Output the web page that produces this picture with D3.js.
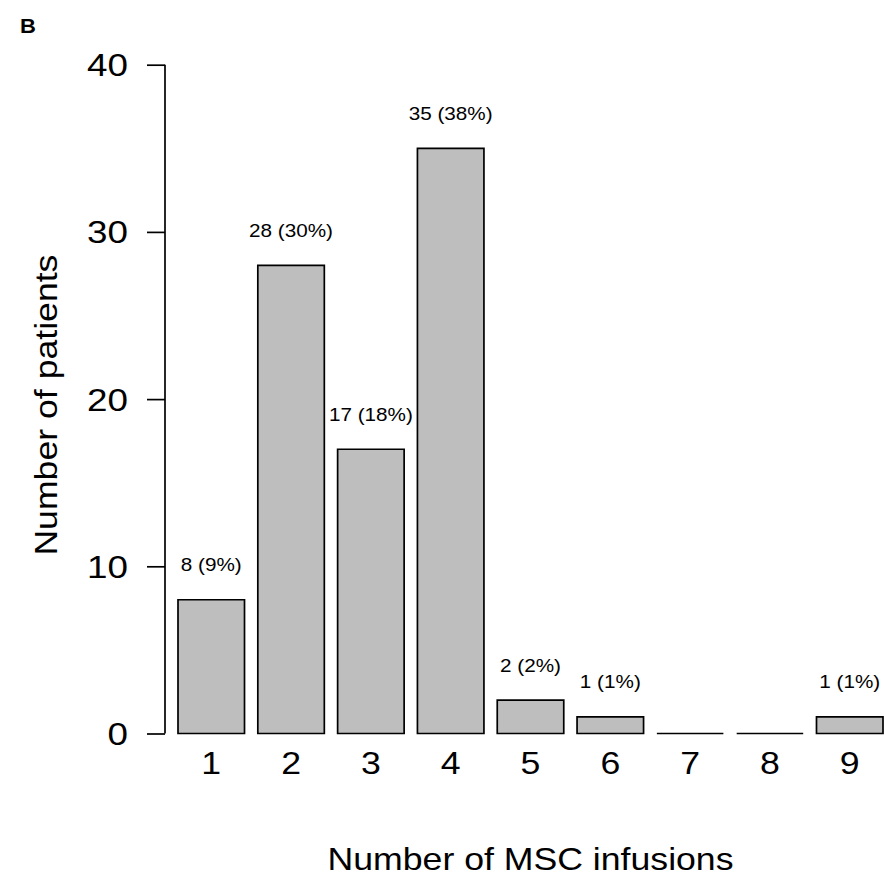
<!DOCTYPE html>
<html>
<head>
<meta charset="utf-8">
<script src="https://cdn.jsdelivr.net/npm/d3@7"></script>
<style>
  html, body { margin: 0; padding: 0; background: #fff; }
  svg { display: block; }
  text { font-family: "Liberation Sans", Arial, sans-serif; fill: #000; }
</style>
</head>
<body>
<svg id="chart" width="884" height="878"></svg>
<script>
// ---- data ----
const categories = ["1", "2", "3", "4", "5", "6", "7", "8", "9"];
const patients = [8, 28, 17, 35, 2, 1, 0, 0, 1];
const barLabels = ["8 (9%)", "28 (30%)", "17 (18%)", "35 (38%)", "2 (2%)", "1 (1%)", "", "", "1 (1%)"];
const yTicks = [0, 10, 20, 30, 40];
const xTitle = "Number of MSC infusions";
const yTitle = "Number of patients";
const panelLabel = "B";

// ---- layout ----
const svg = d3.select("#chart");
const STRETCH = 1.15;

const x = d3.scaleBand().domain(categories).range([178, 883]).paddingInner(1 / 6).paddingOuter(0);
const y = d3.scaleLinear().domain([0, 40]).range([733.5, 64.7]);

function stext(g, tx, ty, str, size, anchor, rotate, weight) {
  const t = g.append("text")
    .attr("transform", `translate(${tx},${ty})` + (rotate ? ` rotate(${rotate})` : "") + ` scale(${STRETCH},1)`)
    .attr("text-anchor", anchor)
    .attr("font-size", size)
    .text(str);
  if (weight) t.attr("font-weight", weight);
  return t;
}

// bars (paths so zero-height bars still show as a line)
const bars = svg.append("g");
patients.forEach((v, i) => {
  const c = categories[i];
  const x0 = x(c), x1 = x(c) + x.bandwidth();
  const y0 = y(0), y1 = y(v);
  const p = d3.path();
  p.moveTo(x0, y0); p.lineTo(x0, y1); p.lineTo(x1, y1); p.lineTo(x1, y0); p.closePath();
  bars.append("path")
    .attr("d", p.toString())
    .attr("fill", "#bebebe")
    .attr("stroke", "#000")
    .attr("stroke-width", 1.7)
    .attr("stroke-linejoin", "miter");
});

// bar labels
const lab = svg.append("g");
patients.forEach((v, i) => {
  if (!barLabels[i]) return;
  const c = categories[i];
  stext(lab, x(c) + x.bandwidth() / 2, y(v) - 28.5, barLabels[i], 18, "middle");
});

// y axis
const yAxis = d3.axisLeft(y).tickValues(yTicks).tickSize(18).tickSizeOuter(0).tickFormat("");
const ya = svg.append("g").attr("transform", "translate(165,0)").call(yAxis);
ya.selectAll("path, line").attr("stroke", "#000").attr("stroke-width", 1.7);
ya.select(".domain").attr("d", `M0,${y(0)}V${y(40)}`);
const ytl = svg.append("g");
yTicks.forEach(t => {
  stext(ytl, 128, y(t) + 11.5, String(t), 32, "end");
});

// x tick labels (no axis line)
const xtl = svg.append("g");
categories.forEach(c => {
  stext(xtl, x(c) + x.bandwidth() / 2, 773.5, c, 31, "middle");
});

// axis titles
stext(svg, (x.range()[0] + x.range()[1]) / 2, 870, xTitle, 31, "middle");
stext(svg, 57, (y(0) + y(40)) / 2 + 6, yTitle, 31, "middle", -90);

// panel label
svg.append("text")
  .attr("x", 20).attr("y", 33)
  .style("font-size", "20px")
  .style("font-weight", "bold")
  .attr("transform", "translate(-2,0) scale(1.1,1)")
  .text(panelLabel);
</script>
</body>
</html>
